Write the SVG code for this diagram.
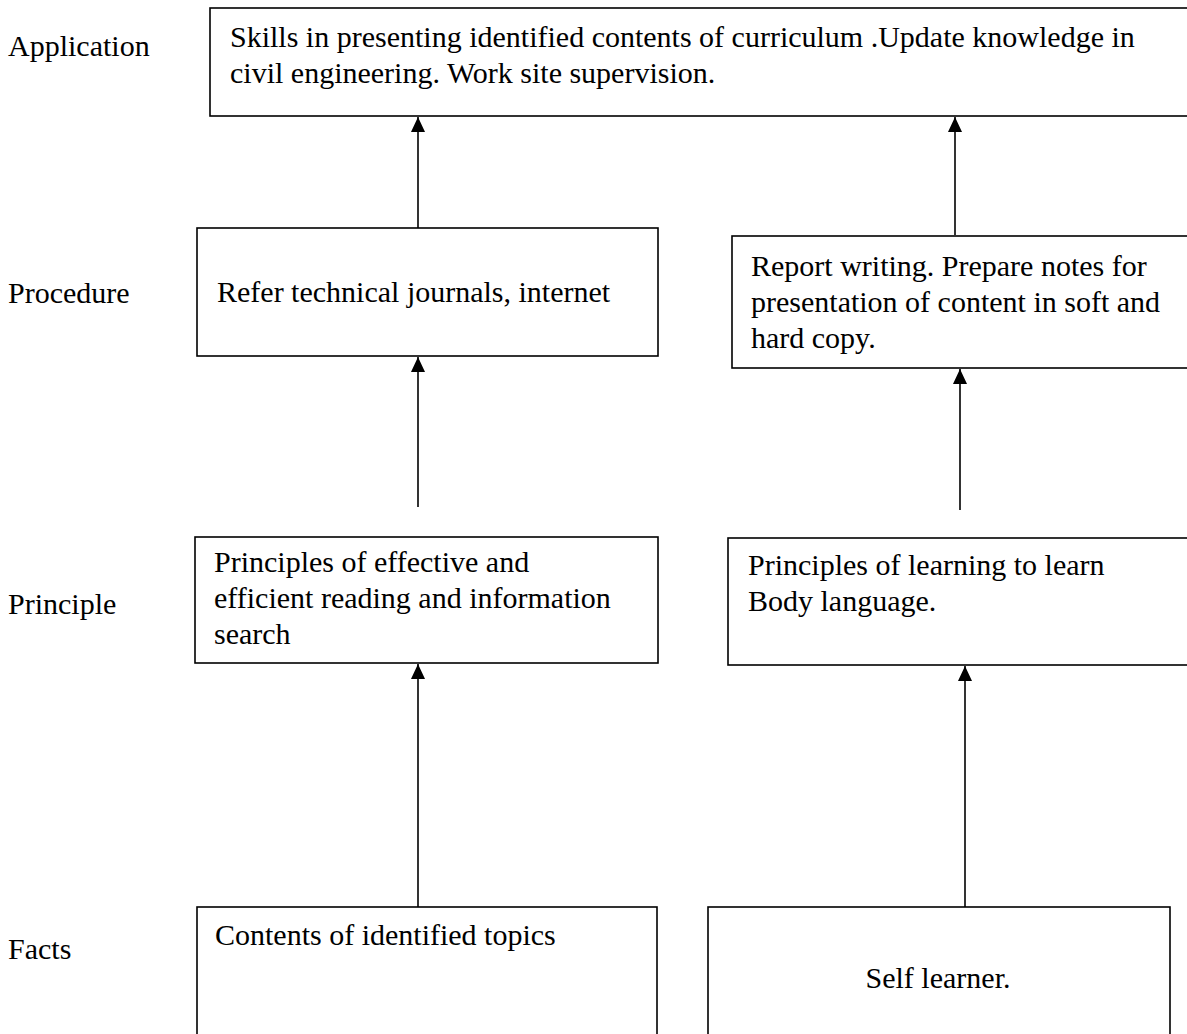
<svg xmlns="http://www.w3.org/2000/svg" width="1187" height="1034" viewBox="0 0 1187 1034">
<style>
text{font-family:"Liberation Serif","Times New Roman",serif;font-size:30px;fill:#000}
.box{fill:#fff;stroke:#000;stroke-width:1.6}
.conn{stroke:#000;stroke-width:1.6;fill:none;marker-end:url(#ah)}
</style>
<defs>
<marker id="ah" markerUnits="userSpaceOnUse" markerWidth="16" markerHeight="16" refX="0" refY="0" viewBox="-8 -8 16 16" orient="auto" overflow="visible">
<path d="M0,-7 L0,7 L15,0 Z" transform="translate(-15,0)" fill="#000"/>
</marker>
</defs>
<rect width="1187" height="1034" fill="#fff"/>
<g id="labels">
<text x="8" y="56">Application</text>
<text x="8" y="303">Procedure</text>
<text x="8" y="614">Principle</text>
<text x="8" y="959">Facts</text>
</g>
<g id="n-application">
<rect class="box" x="210" y="8" width="980" height="108"/>
<text x="230" y="47">Skills in presenting identified contents of curriculum .Update knowledge in</text>
<text x="230" y="83">civil engineering. Work site supervision.</text>
</g>
<g id="n-proc-left">
<rect class="box" x="197" y="228" width="461" height="128"/>
<text x="217" y="302">Refer technical journals, internet</text>
</g>
<g id="n-proc-right">
<rect class="box" x="732" y="236" width="460" height="132"/>
<text x="751" y="276">Report writing. Prepare notes for</text>
<text x="751" y="312">presentation of content in soft and</text>
<text x="751" y="348">hard copy.</text>
</g>
<g id="n-prin-left">
<rect class="box" x="195" y="537" width="463" height="126"/>
<text x="214" y="572">Principles of effective and</text>
<text x="214" y="608">efficient reading and information</text>
<text x="214" y="644">search</text>
</g>
<g id="n-prin-right">
<rect class="box" x="728" y="538" width="464" height="127"/>
<text x="748" y="575">Principles of learning to learn</text>
<text x="748" y="611">Body language.</text>
</g>
<g id="n-facts-left">
<rect class="box" x="197" y="907" width="460" height="140"/>
<text x="215" y="945">Contents of identified topics</text>
</g>
<g id="n-facts-right">
<rect class="box" x="708" y="907" width="462" height="140"/>
<text x="938" y="988" text-anchor="middle">Self learner.</text>
</g>
<g id="connectors">
<line class="conn" x1="418" y1="228" x2="418" y2="117"/>
<line class="conn" x1="955" y1="235" x2="955" y2="117"/>
<line class="conn" x1="418" y1="507" x2="418" y2="357"/>
<line class="conn" x1="960" y1="510" x2="960" y2="369"/>
<line class="conn" x1="418" y1="907" x2="418" y2="664"/>
<line class="conn" x1="965" y1="907" x2="965" y2="666"/>
</g>
</svg>
